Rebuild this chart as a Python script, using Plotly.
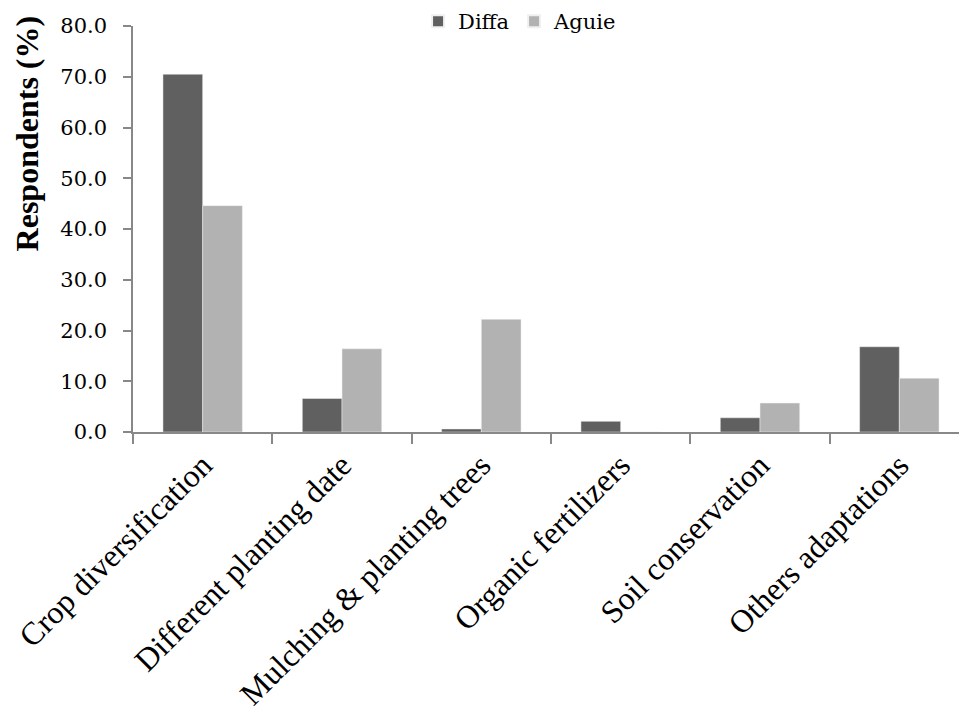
import plotly.graph_objects as go

categories = ["Crop diversification", "Different planting date", "Mulching & planting trees",
              "Organic fertilizers", "Soil conservation", "Others adaptations"]
diffa = [70.5, 6.6, 0.6, 2.1, 2.8, 16.8]
aguie = [44.6, 16.4, 22.2, 0.0, 5.7, 10.6]
y_ticks = [0, 10, 20, 30, 40, 50, 60, 70, 80]

SERIF = "Liberation Serif, Times New Roman, serif"
CAMB = "DejaVu Serif, serif"

fig = go.Figure()
fig.add_trace(go.Bar(name="Diffa", x=categories, y=diffa, marker_color="#606060",
                     marker_line=dict(color="#f0f0f0", width=0.5)))
fig.add_trace(go.Bar(name="Aguie", x=categories, y=aguie, marker_color="#b2b2b2",
                     marker_line=dict(color="#f0f0f0", width=0.5)))

fig.update_layout(
    width=967, height=711,
    margin=dict(l=125, r=6, t=18, b=287, autoexpand=False),
    plot_bgcolor="white", paper_bgcolor="white",
    barmode="group", bargap=0.43, bargroupgap=0,
    font=dict(family=SERIF, color="black"),
    legend=dict(orientation="h", x=0.463, xanchor="center", y=1.011, yanchor="middle",
                font=dict(family=CAMB, size=21), itemsizing="constant",
                bgcolor="rgba(0,0,0,0)"),
    showlegend=True,
    annotations=[dict(text="<b>Respondents (%)</b>", xref="paper", yref="paper",
                      x=-0.127, y=0.735, xanchor="center", yanchor="middle",
                      textangle=-90, showarrow=False,
                      font=dict(family=SERIF, size=32, color="black"))],
)
fig.update_xaxes(
    type="category", showline=True, linecolor="#888888", linewidth=1.5,
    ticks="outside", tickson="boundaries", ticklen=10, tickcolor="#888888", tickwidth=1.5,
    tickangle=-45, tickfont=dict(family=SERIF, size=32, color="black"), showgrid=False, automargin=False,
)
fig.update_yaxes(
    range=[0, 80], tickvals=y_ticks, tickformat=".1f",
    showline=True, linecolor="#888888", linewidth=1.5,
    ticks="outside", ticklen=8, tickcolor="#888888", tickwidth=1.5,
    tickfont=dict(family=CAMB, size=21, color="black"), showgrid=False, zeroline=False, automargin=False,
    ticklabelstandoff=12,
)

fig.write_html("out.html")
